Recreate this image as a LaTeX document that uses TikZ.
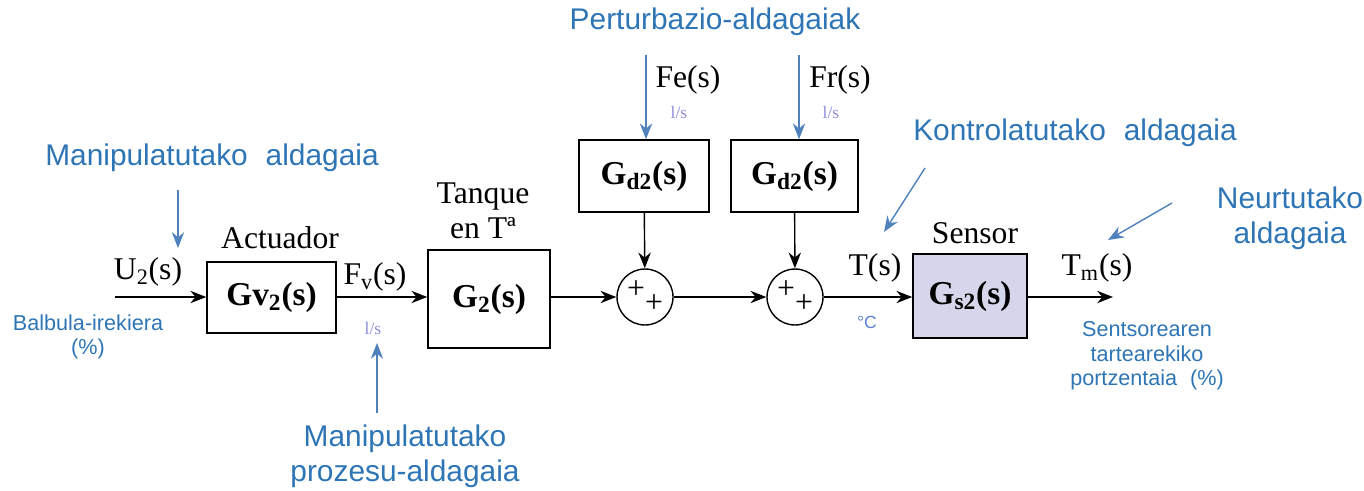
\documentclass[tikz,border=0pt]{standalone}
\usepackage{fontspec}
\setmainfont{Liberation Serif}
\newfontfamily\annfont{Liberation Sans}
\usetikzlibrary{arrows.meta, positioning, calc}
\definecolor{annc}{HTML}{2E75B6}
\definecolor{arrc}{HTML}{4F81BD}
\definecolor{unitc}{HTML}{8C8CDC}
\definecolor{degc}{HTML}{5B7FD6}
\definecolor{sensc}{HTML}{D5D5EB}

\begin{document}
\begin{tikzpicture}[x=0.02cm, y=-0.02cm,
      box/.style={draw, line width=0.9pt, inner sep=0pt,
                  font=\fontsize{19}{21}\selectfont\bfseries},
      sumc/.style={draw, circle, line width=0.8pt, minimum size=1.12cm,
                   inner sep=0pt, font=\fontsize{18}{20}\selectfont},
      sig/.style={font=\fontsize{18}{20}\selectfont, align=center},
      unit/.style={font=\fontsize{10}{11}\selectfont, text=unitc},
      ann/.style={font=\annfont\fontsize{17}{20}\selectfont, text=annc, align=center},
      annsm/.style={font=\annfont\fontsize{12.3}{14}\selectfont, text=annc, align=center},
      flow/.style={-{Stealth[length=9pt,width=7pt]}, line width=0.8pt},
      note/.style={-{Stealth[length=9pt,width=7pt]}, arrc, line width=0.8pt}]
    \useasboundingbox (0,0) rectangle (1364,490);

    % blocks
    \node[box, minimum width=2.58cm, minimum height=1.42cm] (gv) at (271.5,297.5)
      {Gv\textsubscript{2}(s)};
    \node[box, minimum width=2.44cm, minimum height=1.96cm] (gt) at (489,299)
      {G\textsubscript{2}(s)};
    \node[box, minimum width=2.6cm, minimum height=1.44cm] (gde) at (644,176)
      {G\textsubscript{d2}(s)};
    \node[box, minimum width=2.54cm, minimum height=1.44cm] (gdr) at (794.5,176)
      {G\textsubscript{d2}(s)};
    \node[box, fill=sensc, minimum width=2.28cm, minimum height=1.68cm] (gs) at (970,296)
      {G\textsubscript{s2}(s)};
    \node[sumc] (s1) at (645,297)
      {\raisebox{4pt}{+}\raisebox{-4pt}{+}};
    \node[sumc] (s2) at (795,297)
      {\raisebox{4pt}{+}\raisebox{-4pt}{+}};
    \coordinate (in) at (115,297);
    \coordinate (out) at (1113,297);

    % signal flow
    \draw[flow] (in) -- (gv.west |- in);
    \draw[flow] (gv.east |- in) -- (gt.west |- in);
    \draw[flow] (gt.east |- in) -- (s1);
    \draw[flow] (s1) -- (s2);
    \draw[flow] (s2) -- (gs.west |- in);
    \draw[flow] (gs.east |- in) -- (out);
    \draw[flow] (gde) -- (s1);
    \draw[flow] (gdr) -- (s2);

    % signal names
    \node[sig] (u2) at (148,272) {U\textsubscript{2}(s)};
    \node[sig] (act) at (280,238) {Actuador};
    \node[sig] (fv) at (375,277) {F\textsubscript{v}(s)};
    \node[unit] (fvu) at (373,328) {l/s};
    \node[sig] (tank) at (483,211) {Tanque\\en Tª};
    \node[sig] (fe) at (688,80) {Fe(s)};
    \node[unit] (feu) at (679,112) {l/s};
    \node[sig] (fr) at (840,80) {Fr(s)};
    \node[unit] (fru) at (831,112) {l/s};
    \node[sig] (ts) at (875,268) {T(s)};
    \node[font=\annfont\fontsize{10}{11}\selectfont, text=degc] (deg) at (867,322) {°C};
    \node[sig] (sens) at (975,233) {Sensor};
    \node[sig] (tm) at (1097,268) {T\textsubscript{m}(s)};

    % annotations
    \node[ann] (ma) at (212,158) {Manipulatutako\hspace{0.6em}aldagaia};
    \node[annsm] (bi) at (88,337) {Balbula-irekiera\\(\%)};
    \node[ann] (mp) at (405,456) {Manipulatutako\\prozesu-aldagaia};
    \node[ann] (pa) at (715,22) {Perturbazio-aldagaiak};
    \node[ann] (ka) at (1075,133) {Kontrolatutako\hspace{0.6em}aldagaia};
    \node[ann] (na) at (1290,218) {Neurtutako\\aldagaia};
    \node[annsm] (sp) at (1147,356) {Sentsorearen\\tartearekiko\\portzentaia\hspace{0.6em}(\%)};

    \coordinate (maa) at (178,190);
    \coordinate (mab) at (178,248);
    \coordinate (mpa) at (377,413);
    \coordinate (mpb) at (377,343);
    \coordinate (kaa) at (925,168);
    \coordinate (kab) at (884,232);
    \coordinate (naa) at (1172,203);
    \coordinate (nab) at (1108,240);
    \coordinate (fea) at (646,55);
    \coordinate (fra) at (799,55);

    \draw[note] (maa) -- (mab);
    \draw[note] (mpa) -- (mpb);
    \draw[note] (kaa) -- (kab);
    \draw[note] (naa) -- (nab);
    \draw[note] (fea) -- (fea |- gde.north);
    \draw[note] (fra) -- (fra |- gdr.north);
\end{tikzpicture}
\end{document}
